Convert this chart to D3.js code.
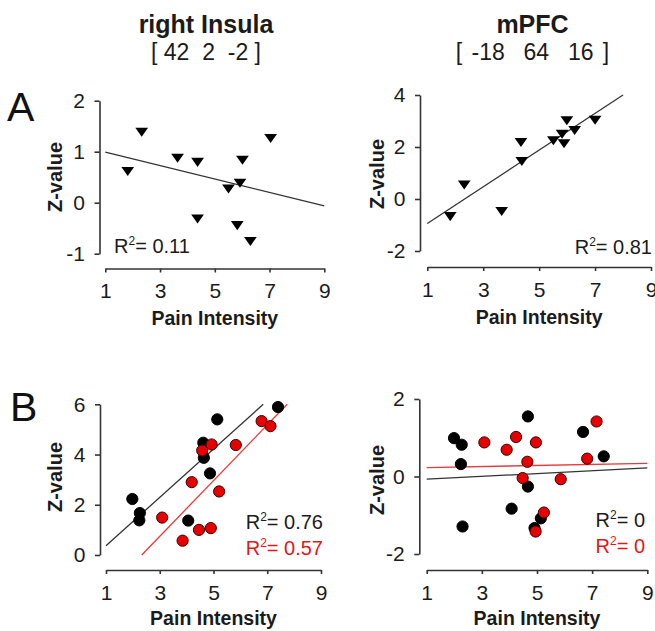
<!DOCTYPE html>
<html>
<head>
<meta charset="utf-8">
<script src="https://cdn.jsdelivr.net/npm/d3@7"></script>
<style>
  html, body { margin: 0; padding: 0; background: #fff; }
  svg { display: block; font-family: "Liberation Sans", Arial, sans-serif; }
  .pre { white-space: pre; }
</style>
</head>
<body>
<svg id="chart" width="655" height="631"></svg>
<script>
// ---------- DATA ----------
const xTickValues = [1, 3, 5, 7, 9];

// Panel A, right insula (triangles)
const insulaPainA = [1.82, 2.33, 3.64, 4.37, 4.37, 5.5, 5.82, 5.92, 6.01, 6.3, 7.04];
const insulaZA    = [0.64, 1.41, 0.9, 0.82, -0.29, 0.3, -0.42, 0.41, 0.86, -0.73, 1.29];
const insulaFitA  = [[1, 0.99], [9, -0.06]];
const insulaYTicksA = [-1, 0, 1, 2];

// Panel A, mPFC (triangles)
const mpfcPainA = [1.82, 2.32, 3.66, 4.35, 4.38, 5.51, 5.82, 5.89, 5.99, 6.27, 7.0];
const mpfcZA    = [-0.62, 0.6, -0.42, 2.23, 1.5, 2.3, 2.55, 2.18, 3.07, 2.69, 3.09];
const mpfcFitA  = [[1, -0.94], [8, 4.0]];
const mpfcYTicksA = [-2, 0, 2, 4];

// Panel B, right insula (black and red circles)
const insulaPainBBlack = [1.98, 2.26, 2.24, 4.06, 4.62, 4.64, 4.87, 5.14, 7.4];
const insulaZBBlack    = [2.23, 1.67, 1.38, 1.37, 4.47, 3.87, 3.25, 5.4, 5.89];
const insulaPainBRed   = [3.09, 3.85, 4.19, 4.46, 4.58, 4.9, 4.93, 5.21, 5.83, 6.79, 7.12];
const insulaZBRed      = [1.49, 0.57, 2.9, 1.0, 4.16, 1.07, 4.4, 2.53, 4.38, 5.33, 5.13];
const insulaFitBBlack  = [[1, 0.37], [6.85, 6.0]];
const insulaFitBRed    = [[2.33, 0.0], [7.74, 6.0]];
const insulaYTicksB = [0, 2, 4, 6];

// Panel B, mPFC (black and red circles)
const mpfcPainBBlack = [1.99, 2.27, 2.24, 2.3, 4.08, 4.67, 4.67, 4.91, 5.14, 6.67, 7.42];
const mpfcZBBlack    = [0.99, 0.82, 0.32, -1.29, -0.83, 1.55, -0.26, -1.33, -1.08, 1.15, 0.52];
const mpfcPainBRed   = [3.09, 3.9, 4.24, 4.48, 4.65, 4.96, 4.95, 5.25, 5.86, 6.82, 7.16];
const mpfcZBRed      = [0.88, 0.69, 1.02, -0.04, 0.38, 0.88, -1.42, -0.93, -0.07, 0.46, 1.42];
const mpfcFitBBlack  = [[1, -0.07], [9, 0.22]];
const mpfcFitBRed    = [[1, 0.23], [9, 0.34]];
const mpfcYTicksB = [-2, 0, 2];

const titles = ["right Insula", "mPFC"];
const coords = ["[ 42  2  -2 ]", "[ -18  64  16 ]"];
const xLabel = "Pain Intensity";
const yLabel = "Z-value";
const rsqA = ["0.11", "0.81"];
const rsqBBlack = ["0.76", "0"];
const rsqBRed = ["0.57", "0"];

// ---------- STYLE / LAYOUT ----------
const INK = "#1b1b1b";
const RED = "#e01818";
const RED_LINE = "#e83a3a";
const svg = d3.select("#chart");

function zip(a, b) { return a.map((v, i) => ({ x: v, y: b[i] })); }

const panels = [
  { xr: [105.3, 324.3], axisY: 268.5, yd: [-1, 2], yr: [253.7, 100.7], axisX: 99.5, yTicks: insulaYTicksA,
    labelX: 55, labelY: 177, xLabelY: 325,
    fits: [{ d: insulaFitA, c: "#333" }],
    series: [{ pts: zip(insulaPainA, insulaZA), type: "tri" }],
    rsq: [{ t: rsqA[0], c: INK, x: 114, y: 253, anchor: "start" }] },
  { xr: [427.3, 651], axisY: 267, yd: [-2, 4], yr: [251, 95], axisX: 420, yTicks: mpfcYTicksA,
    labelX: 377, labelY: 174, xLabelY: 324,
    fits: [{ d: mpfcFitA, c: "#333" }],
    series: [{ pts: zip(mpfcPainA, mpfcZA), type: "tri" }],
    rsq: [{ t: rsqA[1], c: INK, x: 652, y: 254, anchor: "end" }] },
  { xr: [106, 321], axisY: 570, yd: [0, 6], yr: [555, 404.3], axisX: 100, yTicks: insulaYTicksB,
    labelX: 55, labelY: 477, xLabelY: 625,
    fits: [{ d: insulaFitBBlack, c: "#333" }, { d: insulaFitBRed, c: RED_LINE }],
    series: [{ pts: zip(insulaPainBBlack, insulaZBBlack), type: "black" },
             { pts: zip(insulaPainBRed, insulaZBRed), type: "red" }],
    rsq: [{ t: rsqBBlack[0], c: INK, x: 323, y: 529, anchor: "end" },
          { t: rsqBRed[0], c: RED, x: 323, y: 554.5, anchor: "end" }] },
  { xr: [426.7, 647.3], axisY: 570, yd: [-2, 2], yr: [554, 399], axisX: 419.3, yTicks: mpfcYTicksB,
    labelX: 377, labelY: 480, xLabelY: 625,
    fits: [{ d: mpfcFitBBlack, c: "#333" }, { d: mpfcFitBRed, c: RED_LINE }],
    series: [{ pts: zip(mpfcPainBBlack, mpfcZBBlack), type: "black" },
             { pts: zip(mpfcPainBRed, mpfcZBRed), type: "red" }],
    rsq: [{ t: rsqBBlack[1], c: INK, x: 645, y: 527, anchor: "end" },
          { t: rsqBRed[1], c: RED, x: 645, y: 552.5, anchor: "end" }] }
];

// ---------- TITLES ----------
[206, 532.5].forEach((cx, i) => {
  svg.append("text").attr("x", cx).attr("y", 33).attr("text-anchor", "middle")
    .attr("font-size", 25).attr("font-weight", "bold").attr("fill", INK).text(titles[i]);
  svg.append("text").attr("class", "pre").attr("x", cx).attr("y", 60).attr("text-anchor", "middle")
    .attr("font-size", 23).attr("fill", INK).attr("word-spacing", i === 1 ? 3 : 0).text(coords[i]);
});

// panel letters
svg.append("text").attr("x", 7).attr("y", 121).attr("font-size", 41).attr("fill", "#111").text("A");
svg.append("text").attr("x", 10).attr("y", 421).attr("font-size", 41).attr("fill", "#111").text("B");

// ---------- PANELS ----------
panels.forEach(p => {
  const x = d3.scaleLinear().domain([1, 9]).range(p.xr);
  const y = d3.scaleLinear().domain(p.yd).range(p.yr);
  const g = svg.append("g");

  // x axis (detached)
  const xa = g.append("g").attr("transform", `translate(0,${p.axisY})`)
    .call(d3.axisBottom(x).tickValues(xTickValues).tickSize(4).tickSizeOuter(0).tickPadding(11).tickFormat(d => String(d)));
  // y axis
  const ya = g.append("g").attr("transform", `translate(${p.axisX},0)`)
    .call(d3.axisLeft(y).tickValues(p.yTicks).tickSize(5).tickSizeOuter(0).tickPadding(9.5).tickFormat(d => String(d)));
  [xa, ya].forEach(a => {
    a.select(".domain").attr("stroke", "#333").attr("stroke-width", 1.6);
    a.selectAll(".tick line").attr("stroke", "#333").attr("stroke-width", 1.6);
    a.selectAll(".tick text").attr("font-size", 21).attr("fill", INK)
      .attr("font-family", "'Liberation Sans', Arial, sans-serif");
  });

  // axis titles
  g.append("text").attr("x", (p.xr[0] + p.xr[1]) / 2).attr("y", p.xLabelY).attr("text-anchor", "middle")
    .attr("font-size", 19.5).attr("font-weight", "bold").attr("fill", INK).text(xLabel);
  g.append("text").attr("transform", `translate(${p.labelX + 7},${p.labelY}) rotate(-90)`)
    .attr("text-anchor", "middle").attr("font-size", 20).attr("font-weight", "bold").attr("fill", INK).text(yLabel);

  // fit lines
  const line = d3.line().x(d => x(d[0])).y(d => y(d[1]));
  p.fits.forEach(f => {
    g.append("path").attr("d", line(f.d)).attr("fill", "none").attr("stroke", f.c).attr("stroke-width", 1.3);
  });

  // points
  p.series.forEach(s => {
    if (s.type === "tri") {
      const sym = d3.symbol().type(d3.symbolTriangle).size(58);
      g.selectAll(null).data(s.pts).enter().append("path")
        .attr("d", sym)
        .attr("transform", d => `translate(${x(d.x)},${y(d.y)}) rotate(180) scale(1.1,0.9)`)
        .attr("fill", "#000");
    } else {
      g.selectAll(null).data(s.pts).enter().append("circle")
        .attr("cx", d => x(d.x)).attr("cy", d => y(d.y)).attr("r", 5.6)
        .attr("fill", s.type === "red" ? "#e60000" : "#000")
        .attr("stroke", s.type === "red" ? "#3a0000" : "#000").attr("stroke-width", 1);
    }
  });

  // R² labels
  p.rsq.forEach(r => {
    const t = g.append("text").attr("x", r.x).attr("y", r.y).attr("text-anchor", r.anchor)
      .attr("font-size", 20).attr("fill", r.c);
    t.append("tspan").text("R");
    t.append("tspan").attr("font-size", 12).attr("dy", -8).text("2");
    t.append("tspan").attr("dy", 8).text("= " + r.t);
  });
});
</script>
</body>
</html>
